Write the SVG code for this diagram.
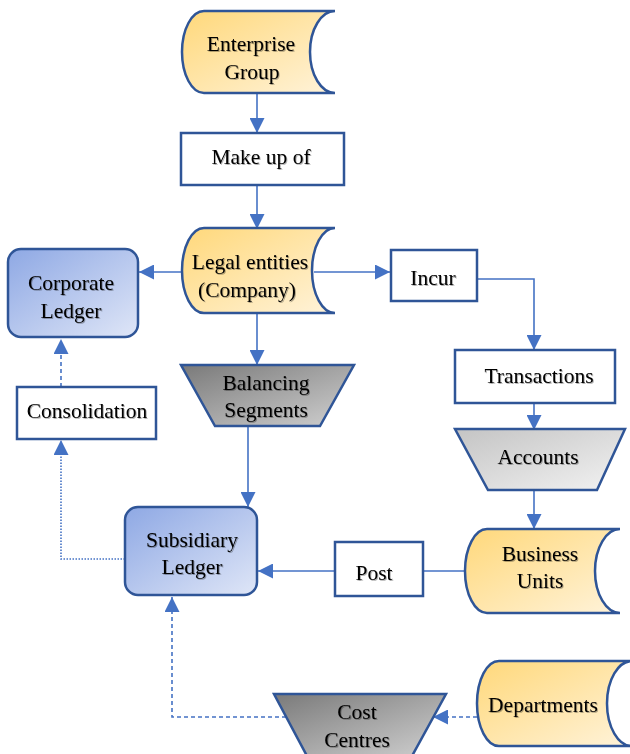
<svg xmlns="http://www.w3.org/2000/svg" width="630" height="754" viewBox="0 0 630 754">
<defs>
<linearGradient id="gy" x1="0" y1="0" x2="1" y2="1"><stop offset="0" stop-color="#FFD87A"/><stop offset="1" stop-color="#FFF3DA"/></linearGradient>
<linearGradient id="gb" x1="0" y1="0" x2="1" y2="1"><stop offset="0" stop-color="#8EA8E4"/><stop offset="1" stop-color="#DFE6F7"/></linearGradient>
<linearGradient id="gd" x1="0" y1="0" x2="1" y2="1"><stop offset="0" stop-color="#7A7A7A"/><stop offset="1" stop-color="#D0D0D0"/></linearGradient>
<linearGradient id="gl" x1="0" y1="0" x2="1" y2="1"><stop offset="0" stop-color="#C4C4C4"/><stop offset="1" stop-color="#F2F2F2"/></linearGradient>
<marker id="ah" markerUnits="userSpaceOnUse" markerWidth="15" markerHeight="15" viewBox="0 0 15 15" refX="15" refY="7.5" orient="auto"><path d="M0,0 L15,7.5 L0,15 Z" fill="#4472C4"/></marker>
<filter id="ts" x="-10%" y="-10%" width="120%" height="130%"><feDropShadow dx="1" dy="1" stdDeviation="0.6" flood-color="#000" flood-opacity="0.3"/></filter>
</defs>
<style>
.s{stroke:#2F5597;stroke-width:2.5;}
.w{fill:#fff;}
.t{font-family:"Liberation Serif","Times New Roman",serif;font-size:21.5px;fill:#000;text-anchor:middle;filter:url(#ts);}
.c{fill:none;stroke:#4472C4;stroke-width:1.6;}
.dash{stroke-dasharray:4,3;}
.dot{stroke-dasharray:1.5,1.5;}
</style>
<g id="connectors">
<path class="c" d="M257,93 V133" marker-end="url(#ah)"/>
<path class="c" d="M257,185 V229" marker-end="url(#ah)"/>
<path class="c" d="M183,272 H139" marker-end="url(#ah)"/>
<path class="c" d="M314,272 H390" marker-end="url(#ah)"/>
<path class="c" d="M477,279 H534 V350" marker-end="url(#ah)"/>
<path class="c" d="M534,403 V430" marker-end="url(#ah)"/>
<path class="c" d="M534,490 V529" marker-end="url(#ah)"/>
<path class="c" d="M257,313 V365" marker-end="url(#ah)"/>
<path class="c" d="M248,426 V507" marker-end="url(#ah)"/>
<path class="c" d="M466,571 H423"/>
<path class="c" d="M335,571 H258" marker-end="url(#ah)"/>
<path class="c dash" d="M61,387 V339" marker-end="url(#ah)"/>
<path class="c dot" d="M125,559 H61 V440" marker-end="url(#ah)"/>
<path class="c dash" d="M477,717 H433" marker-end="url(#ah)"/>
<path class="c dash" d="M286,717 H172 V597" marker-end="url(#ah)"/>
</g>
<g id="enterprise-group">
<path class="s" fill="url(#gy)" d="M204,11 L335,11 A25 41 0 0 0 335,93 L204,93 A22 41 0 0 1 204,11 Z"/>
<text class="t" x="251" y="51">Enterprise</text>
<text class="t" x="252" y="79">Group</text>
</g>
<g id="make-up-of">
<rect class="s w" x="181" y="133" width="163" height="52"/>
<text class="t" x="261" y="164">Make up of</text>
</g>
<g id="legal-entities">
<path class="s" fill="url(#gy)" d="M204,228 L335,228 A23 42.5 0 0 0 335,313 L204,313 A22 42.5 0 0 1 204,228 Z"/>
<text class="t" x="250" y="269">Legal entities</text>
<text class="t" x="247" y="297">(Company)</text>
</g>
<g id="corporate-ledger">
<rect class="s" fill="url(#gb)" x="8" y="249" width="130" height="88" rx="13"/>
<text class="t" x="71" y="290">Corporate</text>
<text class="t" x="71" y="318">Ledger</text>
</g>
<g id="incur">
<rect class="s w" x="391" y="250" width="86" height="51"/>
<text class="t" x="433" y="285">Incur</text>
</g>
<g id="transactions">
<rect class="s w" x="455" y="350" width="160" height="53"/>
<text class="t" x="539" y="383">Transactions</text>
</g>
<g id="accounts">
<path class="s" fill="url(#gl)" d="M455,429 H625 L597,490 H488 Z"/>
<text class="t" x="538" y="464">Accounts</text>
</g>
<g id="business-units">
<path class="s" fill="url(#gy)" d="M487,529 L620,529 A25 42 0 0 0 620,613 L487,613 A22 42 0 0 1 487,529 Z"/>
<text class="t" x="540" y="561">Business</text>
<text class="t" x="540" y="588">Units</text>
</g>
<g id="post">
<rect class="s w" x="335" y="542" width="88" height="54"/>
<text class="t" x="374" y="580">Post</text>
</g>
<g id="balancing-segments">
<path class="s" fill="url(#gd)" d="M181,365 H354 L320,426 H215 Z"/>
<text class="t" x="266" y="390">Balancing</text>
<text class="t" x="266" y="417">Segments</text>
</g>
<g id="consolidation">
<rect class="s w" x="17" y="387" width="139" height="52"/>
<text class="t" x="87" y="418">Consolidation</text>
</g>
<g id="subsidiary-ledger">
<rect class="s" fill="url(#gb)" x="125" y="507" width="132" height="88" rx="13"/>
<text class="t" x="192" y="547">Subsidiary</text>
<text class="t" x="192" y="574">Ledger</text>
</g>
<g id="cost-centres">
<path class="s" fill="url(#gd)" d="M274,694 H446 L412,756 H307 Z"/>
<text class="t" x="357" y="719">Cost</text>
<text class="t" x="357" y="747">Centres</text>
</g>
<g id="departments">
<path class="s" fill="url(#gy)" d="M499,661 L632,661 A25 42.5 0 0 0 632,746 L499,746 A22 42.5 0 0 1 499,661 Z"/>
<text class="t" x="543" y="712">Departments</text>
</g>
</svg>
